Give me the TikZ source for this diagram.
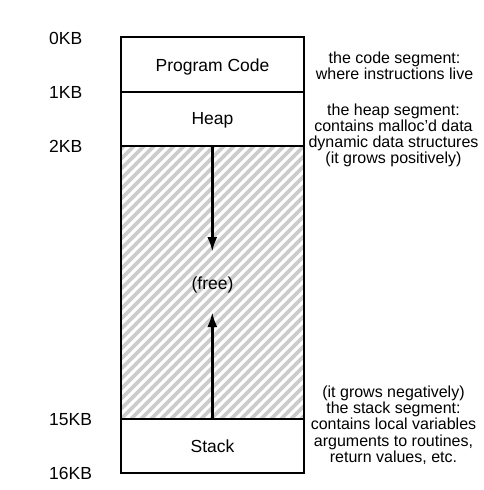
\documentclass[tikz,border=0pt]{standalone}
\usepackage{fontspec}
\setmainfont{Liberation Sans}
\usetikzlibrary{arrows.meta}
\begin{document}
\begin{tikzpicture}[x=1pt,y=-1pt,
  seg/.style={draw=black, line width=1.6pt, minimum width=183pt, inner sep=0pt, outer sep=0pt},
  big/.style={font=\fontsize{17.5}{18}\selectfont, inner sep=0pt},
  addr/.style={big, anchor=base west},
  note/.style={font=\fontsize{16}{16.3}\selectfont, align=center, inner sep=0pt, anchor=north},
  hatch/.style={draw=black!20, line width=3.6pt},
  growarrow/.style={line width=2.8pt, -{Latex[length=15pt,width=10pt]}}]
\useasboundingbox (0,0) rectangle (484,490);
% segments
\node[seg, minimum height=273pt,
  path picture={\foreach \i in {-320,-310,...,200}
    \draw[hatch] ([xshift=\i pt]path picture bounding box.south west) -- ++(320pt,320pt);}]
  (free) at (212.5,282.5) {};
\node[seg, minimum height=55pt] (code) at (212.5,64.5) {};
\node[seg, minimum height=54pt] (heap) at (212.5,119) {};
\node[seg, minimum height=54pt] (stack) at (212.5,446) {};
% segment labels
\node[big, anchor=base] (codelbl) at (212.5,71.5) {Program Code};
\node[big, anchor=base] (heaplbl) at (212.5,124.8) {Heap};
\node[big, anchor=base] (stacklbl) at (212.5,452.8) {Stack};
\node[big, anchor=base] (freelbl) at (212.5,289) {(free)};
% arrows
\coordinate (downtip) at (212.3,252);
\coordinate (uptip) at (212.3,312);
\draw[growarrow] (free.north -| downtip) -- (downtip);
\draw[growarrow] (free.south -| uptip) -- (uptip);
% addresses
\node[addr] (a0) at (49,44.5) {0KB};
\node[addr] (a1) at (49,98.5) {1KB};
\node[addr] (a2) at (49,152.5) {2KB};
\node[addr] (a15) at (49,425.5) {15KB};
\node[addr] (a16) at (49,479.5) {16KB};
% notes
\node[note] (codenote) at (394.5,51.3) {the code segment:\\where instructions live};
\node[note] (heapnote) at (393.5,103.3) {the heap segment:\\contains malloc’d data\\dynamic data structures\\(it grows positively)};
\node[note] (stacknote) at (393.5,385.3) {(it grows negatively)\\the stack segment:\\contains local variables\\arguments to routines,\\return values, etc.};
\end{tikzpicture}
\end{document}
